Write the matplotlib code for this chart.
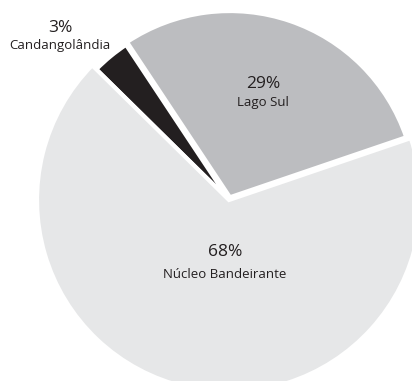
import matplotlib
matplotlib.use('Agg')
import matplotlib.pyplot as plt

regions = ['Lago Sul', 'Candangolândia', 'Núcleo Bandeirante']
shares = [29.1, 3.3, 67.6]
colors = ['#bcbdc0', '#231f20', '#e6e7e8']
explode = [0.015, 0.0, 0.0]

plt.rcParams['font.family'] = ['Open Sans', 'DejaVu Sans']

W, H, R = 412, 381, 192
cx, cy = 229, 200  # pie centre in pixels, from top-left

fig = plt.figure(figsize=(W / 100, H / 100), dpi=100)
ax = fig.add_axes([0, 0, 1, 1])
wedges, _ = ax.pie(shares, colors=colors, explode=explode, startangle=18.8,
                   counterclock=True, radius=1.0,
                   wedgeprops=dict(edgecolor='white', linewidth=3))
# the two smaller slices are drawn a little shorter than the big one
wedges[0].set_radius(0.97)
wedges[1].set_radius(0.97)
ax.set_xlim(-cx / R, (W - cx) / R)
ax.set_ylim(-(H - cy) / R, cy / R)
ax.axis('off')


def px(x, y):
    return (x - cx) / R, (cy - y) / R


# label anchors (pixels): percentage baseline, name baseline
label_pos = {
    'Lago Sul': ((263, 88), (263, 106)),
    'Candangolândia': ((60, 32), (60, 49)),
    'Núcleo Bandeirante': ((225, 256), (225, 278)),
}
for name, share in zip(regions, shares):
    (x1, y1), (x2, y2) = label_pos[name]
    ax.text(*px(x1, y1), f'{share:.0f}%', ha='center', va='baseline',
            fontsize=12.5, color='#231f20')
    ax.text(*px(x2, y2), name, ha='center', va='baseline',
            fontsize=9.5, color='#231f20')

fig.savefig('out.png', dpi=100)
